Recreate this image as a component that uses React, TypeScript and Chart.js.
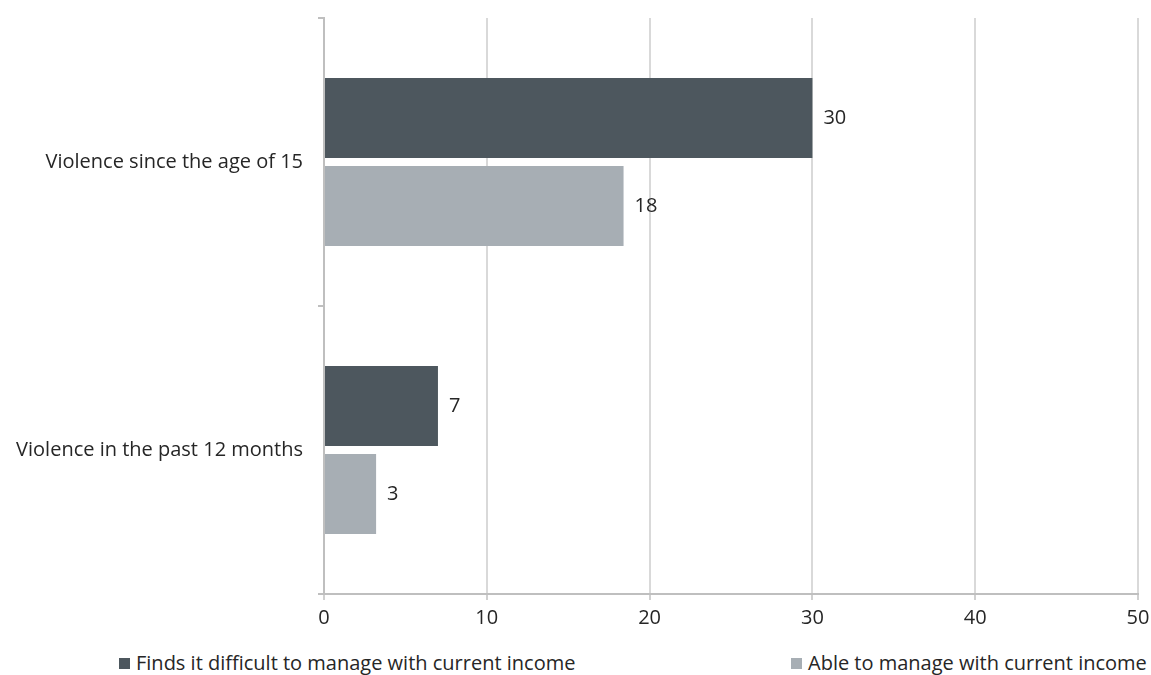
import React, { useEffect, useRef } from "react";
import { Chart, registerables } from "chart.js";

Chart.register(...registerables);

const categories = ["Violence since the age of 15", "Violence in the past 12 months"];
const seriesNames = ["Finds it difficult to manage with current income", "Able to manage with current income"];
const difficultValues = [30, 7];
const ableValues = [18.4, 3.2];
const xTicks = [0, 10, 20, 30, 40, 50];
const colors = ["#4d575e", "#a7aeb4"];

const FONT = "'Open Sans', 'Noto Sans', sans-serif";

const valueLabels = {
  id: "valueLabels",
  afterDatasetsDraw(chart: any) {
    const ctx = chart.ctx;
    ctx.save();
    ctx.font = `20px ${FONT}`;
    ctx.fillStyle = "#262626";
    ctx.textAlign = "left";
    ctx.textBaseline = "middle";
    chart.data.datasets.forEach((ds: any, i: number) => {
      const meta = chart.getDatasetMeta(i);
      meta.data.forEach((bar: any, j: number) => {
        ctx.fillText(String(Math.round(ds.data[j])), bar.x + 11, bar.y);
      });
    });
    ctx.restore();
  },
};

export default function App() {
  const ref = useRef<HTMLCanvasElement>(null);
  useEffect(() => {
    document.body.style.margin = "0";
    if (!ref.current) return;
    const chart = new Chart(ref.current, {
      type: "bar",
      data: {
        labels: categories,
        datasets: [
          {
            label: seriesNames[0],
            data: difficultValues,
            backgroundColor: colors[0],
            barPercentage: 0.909,
            categoryPercentage: 0.611,
          },
          {
            label: seriesNames[1],
            data: ableValues,
            backgroundColor: colors[1],
            barPercentage: 0.909,
            categoryPercentage: 0.611,
          },
        ],
      },
      options: {
        indexAxis: "y",
        responsive: false,
        animation: false,
        layout: { padding: { top: 10, right: 13, bottom: 14, left: 0 } },
        plugins: { legend: { display: false }, tooltip: { enabled: false } },
        scales: {
          x: {
            min: 0,
            max: 50,
            afterBuildTicks: (scale: any) => {
              scale.ticks = xTicks.map((v) => ({ value: v }));
            },
            afterFit: (scale: any) => {
              scale.height = 40;
              scale.paddingLeft = 0;
              scale.paddingRight = 0;
            },
            grid: {
              color: "#d9d9d9",
              lineWidth: 2,
              tickLength: 6,
              tickColor: "#d0d0d0",
            },
            border: { color: "#bfbfbf", width: 2 },
            ticks: {
              padding: 6,
              color: "#262626",
              font: { family: FONT, size: 20 },
            },
          },
          y: {
            afterFit: (scale: any) => {
              scale.width = 316;
              scale.paddingTop = 0;
              scale.paddingBottom = 0;
            },
            grid: {
              drawOnChartArea: false,
              offset: true,
              tickLength: 6,
              tickColor: "#bfbfbf",
              lineWidth: 2,
            },
            border: { color: "#bfbfbf", width: 2 },
            ticks: {
              padding: 15,
              color: "#262626",
              font: { family: FONT, size: 20 },
            },
          },
        },
      },
      plugins: [valueLabels],
    });
    return () => chart.destroy();
  }, []);

  const legendItem = (i: number, left: number) => (
    <div
      key={i}
      style={{
        position: "absolute",
        left,
        top: 0,
        display: "flex",
        alignItems: "center",
        whiteSpace: "nowrap",
      }}
    >
      <span
        style={{
          display: "inline-block",
          width: 11,
          height: 11,
          background: colors[i],
          marginRight: 6,
        }}
      />
      <span>{seriesNames[i]}</span>
    </div>
  );

  return (
    <div style={{ position: "relative", width: 1151, height: 675, overflow: "hidden", margin: 0 }}>
      <canvas
        ref={ref}
        width={1143}
        height={640}
        style={{ display: "block", position: "absolute", left: 8, top: 8 }}
      />
      <div
        style={{
          position: "absolute",
          top: 651,
          left: 8,
          width: 1143,
          height: 24,
          fontFamily: FONT,
          fontSize: 20,
          lineHeight: "24px",
          color: "#262626",
        }}
      >
        {legendItem(0, 111)}
        {legendItem(1, 783)}
      </div>
    </div>
  );
}
